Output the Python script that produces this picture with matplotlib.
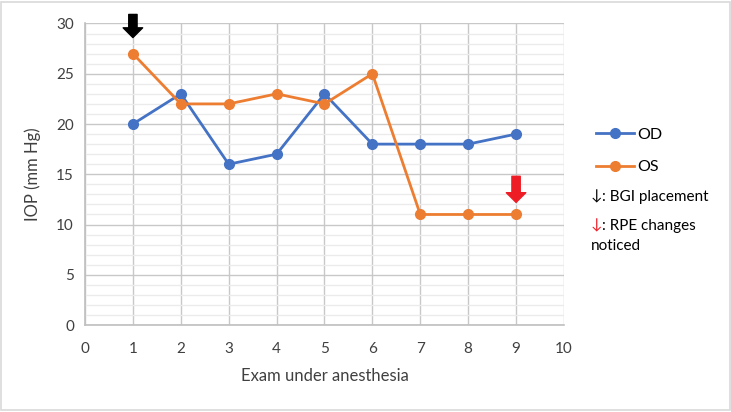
import matplotlib.pyplot as plt
from matplotlib.lines import Line2D
from matplotlib.patches import Rectangle
from matplotlib.ticker import MultipleLocator

plt.rcParams['font.family'] = ['Lato', 'DejaVu Sans']

exams = [1, 2, 3, 4, 5, 6, 7, 8, 9]
od = [20, 23, 16, 17, 23, 18, 18, 18, 19]
os_ = [27, 22, 22, 23, 22, 25, 11, 11, 11]

blue = '#4472C4'
orange = '#ED7D31'
text_col = '#404040'

fig = plt.figure(figsize=(7.31, 4.12), dpi=100)
ax = fig.add_axes([0.1163, 0.211, 0.6552, 0.732])

ax.plot(exams, od, '-o', color=blue, lw=2, ms=7, label='OD', zorder=3)
ax.plot(exams, os_, '-o', color=orange, lw=2, ms=7, label='OS', zorder=3)

ax.set_xlim(0, 10)
ax.set_ylim(0, 30)
ax.xaxis.set_major_locator(MultipleLocator(1))
ax.yaxis.set_major_locator(MultipleLocator(5))
ax.yaxis.set_minor_locator(MultipleLocator(1))
ax.grid(True, which='major', color='#c8c8c8', lw=1)
ax.grid(True, which='minor', axis='y', color='#ebebeb', lw=1)
ax.set_axisbelow(True)
for s in ['top', 'right']:
    ax.spines[s].set_visible(False)
for s in ['left', 'bottom']:
    ax.spines[s].set_color('#bfbfbf')
    ax.spines[s].set_linewidth(1.2)
ax.tick_params(which='both', length=0, labelsize=11, colors=text_col, pad=8)
ax.tick_params(axis='x', pad=12)
ax.set_xlabel('Exam under anesthesia', fontsize=12, color=text_col, labelpad=9)
ax.set_ylabel('IOP (mm Hg)', fontsize=12, color=text_col, labelpad=11)

# event arrows
arrow_style = 'simple,head_width=1.4,head_length=0.7,tail_width=0.6'
ax.annotate('', xy=(1, 28.6), xytext=(1, 30.9),
            arrowprops=dict(arrowstyle=arrow_style, color='black', shrinkA=0, shrinkB=0),
            annotation_clip=False)
ax.annotate('', xy=(9, 12.2), xytext=(9, 14.8),
            arrowprops=dict(arrowstyle=arrow_style, color='#ee1c25', shrinkA=0, shrinkB=0),
            annotation_clip=False)

# legend
handles = [Line2D([0], [0], color=blue, lw=2, marker='o', ms=7),
           Line2D([0], [0], color=orange, lw=2, marker='o', ms=7)]
fig.legend(handles, ['OD', 'OS'], loc='upper left', bbox_to_anchor=(0.795, 0.725),
           frameon=False, fontsize=11.5, handlelength=2.4, handletextpad=0.2,
           labelspacing=1.15, labelcolor='black')
fig.text(0.808, 0.522, '\u2193', fontsize=11, color='black', va='center')
fig.text(0.824, 0.522, ': BGI placement', fontsize=11, color='black', va='center')
fig.text(0.808, 0.452, '\u2193', fontsize=11, color='#ee1c25', va='center')
fig.text(0.824, 0.452, ': RPE changes', fontsize=11, color='black', va='center')
fig.text(0.808, 0.403, 'noticed', fontsize=11, color='black', va='center')

fig.patches.append(Rectangle((0.002, 0.004), 0.996, 0.992, transform=fig.transFigure,
                             fill=False, edgecolor='#d9d9d9', lw=1.2))

fig.savefig('out.png', dpi=100)
